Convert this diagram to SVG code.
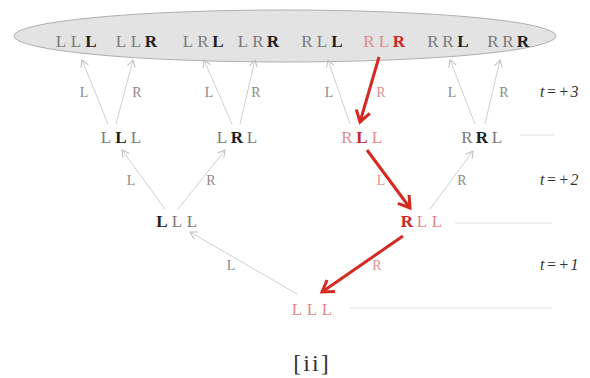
<svg xmlns="http://www.w3.org/2000/svg" width="590" height="378" viewBox="0 0 590 378">
<style>
.n{font-family:"Liberation Serif","Times New Roman",serif;font-size:17px;text-anchor:middle}
.g{fill:#7a7a7a}
.k{fill:#1e1e1e;font-weight:bold}
.p{fill:#e28a8a}
.r{fill:#c62828;font-weight:bold}
.lb{font-family:"Liberation Serif","Times New Roman",serif;font-size:14px;text-anchor:middle;fill:#8a8a8a}
.lp{fill:#e09090}
.t{font-family:"Liberation Serif","Times New Roman",serif;font-style:italic;font-size:16px;fill:#333;letter-spacing:1.5px}
.e{stroke:#cfcfcf;stroke-width:1;fill:none;marker-end:url(#ga)}
.re{stroke:#d42a22;stroke-width:3;fill:none;marker-end:url(#ra)}
.h{stroke:#e2e2e2;stroke-width:1.2}
</style>
<defs>
<marker id="ga" markerUnits="userSpaceOnUse" markerWidth="12" markerHeight="12" refX="8" refY="5" orient="auto">
<path d="M1,1 L8,5 L1,9" fill="none" stroke="#bdbdbd" stroke-width="1"/>
</marker>
<marker id="ra" markerUnits="userSpaceOnUse" markerWidth="20" markerHeight="20" refX="13" refY="9" orient="auto">
<path d="M2,2 L13,9 L2,16" fill="none" stroke="#d42a22" stroke-width="3" stroke-linejoin="miter"/>
</marker>
</defs>

<g id="leaves">
<ellipse cx="285" cy="36" rx="271" ry="26" fill="#e3e3e3" stroke="#b0b0b0" stroke-width="1"/>
<text class="n" y="47"><tspan class="g" x="61">L</tspan><tspan class="g" x="76">L</tspan><tspan class="k" x="91">L</tspan></text>
<text class="n" y="47"><tspan class="g" x="121">L</tspan><tspan class="g" x="136">L</tspan><tspan class="k" x="151">R</tspan></text>
<text class="n" y="47"><tspan class="g" x="188">L</tspan><tspan class="g" x="203">R</tspan><tspan class="k" x="218">L</tspan></text>
<text class="n" y="47"><tspan class="g" x="243">L</tspan><tspan class="g" x="258">R</tspan><tspan class="k" x="273">R</tspan></text>
<text class="n" y="47"><tspan class="g" x="307">R</tspan><tspan class="g" x="322">L</tspan><tspan class="k" x="337">L</tspan></text>
<text class="n" y="47"><tspan class="p" x="369">R</tspan><tspan class="p" x="384">L</tspan><tspan class="r" x="399">R</tspan></text>
<text class="n" y="47"><tspan class="g" x="433">R</tspan><tspan class="g" x="448">R</tspan><tspan class="k" x="463">L</tspan></text>
<text class="n" y="47"><tspan class="g" x="493">R</tspan><tspan class="g" x="508">R</tspan><tspan class="k" x="523">R</tspan></text>
</g>

<g id="n3-LLL"><text class="n" y="143"><tspan class="g" x="106">L</tspan><tspan class="k" x="121">L</tspan><tspan class="g" x="136">L</tspan></text></g>
<g id="n3-LRL"><text class="n" y="143"><tspan class="g" x="222">L</tspan><tspan class="k" x="237">R</tspan><tspan class="g" x="252">L</tspan></text></g>
<g id="n3-RLL"><text class="n" y="143"><tspan class="p" x="347">R</tspan><tspan class="r" x="362">L</tspan><tspan class="p" x="377">L</tspan></text></g>
<g id="n3-RRL"><text class="n" y="143"><tspan class="g" x="467">R</tspan><tspan class="k" x="482">R</tspan><tspan class="g" x="497">L</tspan></text></g>

<g id="n2-LLL"><text class="n" y="227"><tspan class="k" x="162">L</tspan><tspan class="g" x="177">L</tspan><tspan class="g" x="192">L</tspan></text></g>
<g id="n2-RLL"><text class="n" y="227"><tspan class="r" x="407">R</tspan><tspan class="p" x="422">L</tspan><tspan class="p" x="437">L</tspan></text></g>

<g id="n1-LLL"><text class="n" y="315"><tspan class="p" x="297">L</tspan><tspan class="p" x="312">L</tspan><tspan class="p" x="327">L</tspan></text></g>

<g id="connectors">
<line class="e" x1="108" y1="124" x2="82" y2="60"/>
<line class="e" x1="116" y1="124" x2="133" y2="60"/>
<line class="e" x1="232" y1="124" x2="204" y2="60"/>
<line class="e" x1="240" y1="124" x2="255" y2="60"/>
<line class="e" x1="350" y1="124" x2="328" y2="60"/>
<line class="e" x1="475" y1="124" x2="450" y2="60"/>
<line class="e" x1="485" y1="124" x2="500" y2="60"/>
<line class="e" x1="165" y1="209" x2="122" y2="150"/>
<line class="e" x1="178" y1="209" x2="225" y2="150"/>
<line class="e" x1="430" y1="209" x2="473" y2="151"/>
<line class="e" x1="297" y1="294" x2="190" y2="232"/>
<line class="re" x1="379" y1="57" x2="360" y2="122"/>
<line class="re" x1="367" y1="150" x2="410" y2="208"/>
<line class="re" x1="403" y1="236" x2="322" y2="292"/>
<line class="h" x1="520" y1="135" x2="555" y2="135"/>
<line class="h" x1="455" y1="223" x2="552" y2="223"/>
<line class="h" x1="350" y1="308" x2="552" y2="308"/>
</g>

<g id="edge-labels">
<text class="lb" x="84" y="97">L</text>
<text class="lb" x="137" y="97">R</text>
<text class="lb" x="209" y="97">L</text>
<text class="lb" x="256" y="97">R</text>
<text class="lb" x="329" y="97">L</text>
<text class="lb lp" x="381" y="97">R</text>
<text class="lb" x="452" y="97">L</text>
<text class="lb" x="504" y="97">R</text>
<text class="lb" x="131" y="185">L</text>
<text class="lb" x="211" y="185">R</text>
<text class="lb lp" x="381" y="185">L</text>
<text class="lb" x="462" y="185">R</text>
<text class="lb" x="231" y="270">L</text>
<text class="lb lp" x="377" y="270">R</text>
</g>

<g id="time-labels">
<text class="t" x="540" y="97">t=+3</text>
<text class="t" x="540" y="185">t=+2</text>
<text class="t" x="540" y="270">t=+1</text>
</g>

<text x="312" y="371" font-family="Liberation Serif,'Times New Roman',serif" font-size="24" fill="#333" text-anchor="middle" letter-spacing="2">[ii]</text>
</svg>
